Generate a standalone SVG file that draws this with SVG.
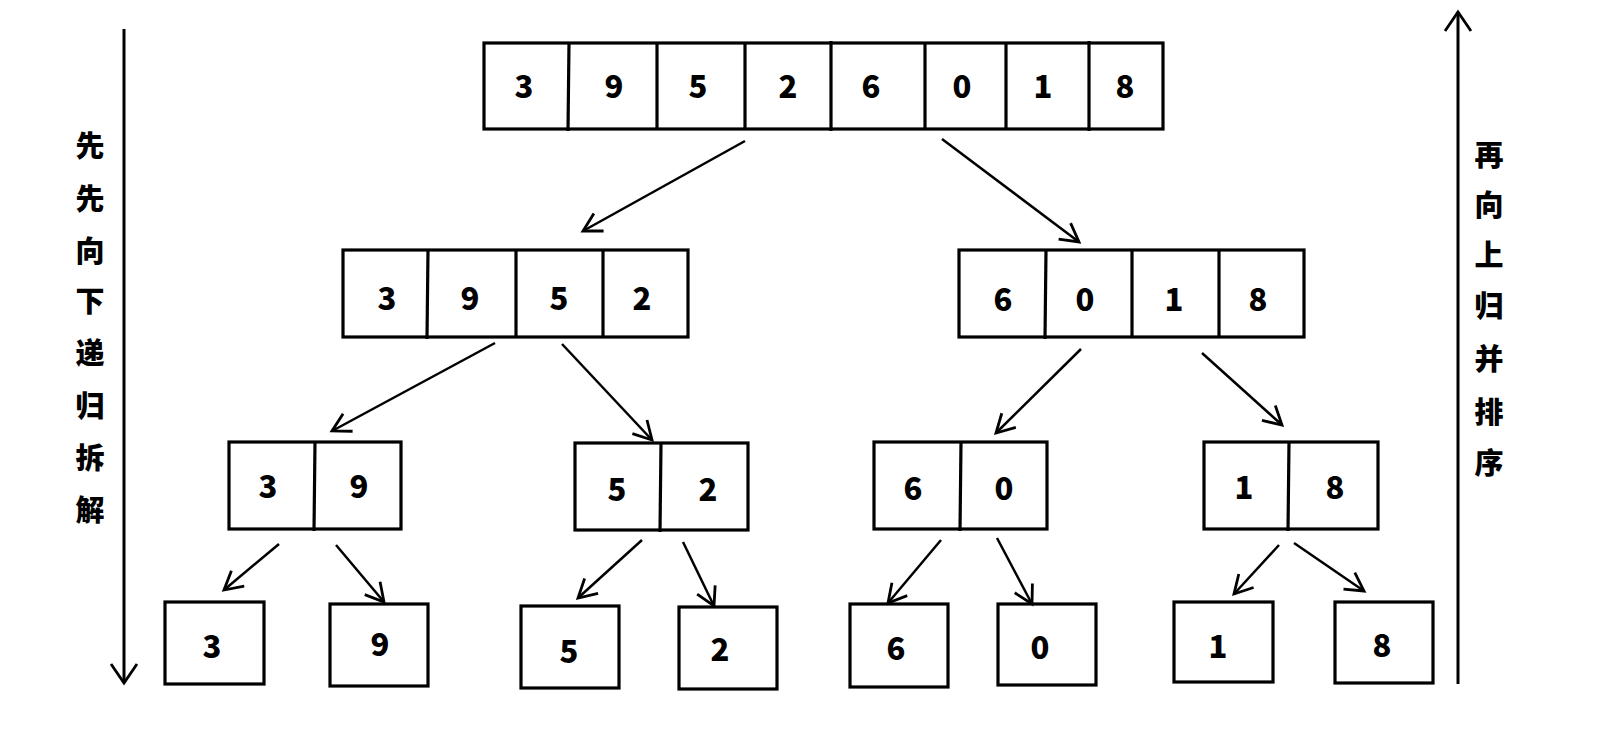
<svg xmlns="http://www.w3.org/2000/svg" width="1618" height="735" viewBox="0 0 1618 735">
<style>
.box{fill:none;stroke:#000;stroke-width:3.2}
.div{stroke:#000;stroke-width:3.2}
.num{font-family:"Noto Sans CJK SC","Liberation Sans",sans-serif;font-weight:900;font-size:31px;text-anchor:middle;dominant-baseline:central;fill:#000}
.cjk{font-family:"Noto Sans CJK SC",sans-serif;font-weight:900;font-size:29px;text-anchor:middle;dominant-baseline:central;fill:#000}
.arr{stroke:#000;stroke-width:2.5;fill:none;marker-end:url(#v)}
.big{stroke:#000;stroke-width:3;fill:none;marker-end:url(#vb)}
</style>
<defs>
<marker id="v" markerUnits="userSpaceOnUse" markerWidth="30" markerHeight="30" refX="21" refY="15" orient="auto" viewBox="0 0 30 30">
<polyline points="3,5 21,15 3,25" fill="none" stroke="#000" stroke-width="2.8"/>
</marker>
<marker id="vb" markerUnits="userSpaceOnUse" markerWidth="40" markerHeight="40" refX="24" refY="20" orient="auto" viewBox="0 0 40 40">
<polyline points="5,7 24,20 5,33" fill="none" stroke="#000" stroke-width="2.8"/>
</marker>
</defs>
<rect width="1618" height="735" fill="#fff"/>

<g id="connectors">
<line class="big" x1="124" y1="29" x2="124" y2="683"/>
<line class="big" x1="1458" y1="684" x2="1458" y2="12"/>
<line class="arr" x1="745" y1="141" x2="583" y2="231"/>
<line class="arr" x1="942" y1="139" x2="1079" y2="242"/>
<line class="arr" x1="495" y1="343" x2="332" y2="431"/>
<line class="arr" x1="562" y1="344" x2="652" y2="440"/>
<line class="arr" x1="1081" y1="349" x2="996" y2="433"/>
<line class="arr" x1="1202" y1="353" x2="1282" y2="425"/>
<line class="arr" x1="279" y1="544" x2="224" y2="590"/>
<line class="arr" x1="336" y1="545" x2="384" y2="602"/>
<line class="arr" x1="642" y1="540" x2="578" y2="598"/>
<line class="arr" x1="683" y1="542" x2="714" y2="606"/>
<line class="arr" x1="941" y1="540" x2="888" y2="603"/>
<line class="arr" x1="997" y1="538" x2="1032" y2="604"/>
<line class="arr" x1="1279" y1="545" x2="1234" y2="594"/>
<line class="arr" x1="1294" y1="543" x2="1364" y2="591"/>
</g>

<g id="label-left">
<text class="cjk" x="90" y="144">先</text>
<text class="cjk" x="90" y="197">先</text>
<text class="cjk" x="90" y="249">向</text>
<text class="cjk" x="90" y="299">下</text>
<text class="cjk" x="90" y="351">递</text>
<text class="cjk" x="90" y="404">归</text>
<text class="cjk" x="90" y="456">拆</text>
<text class="cjk" x="90" y="508">解</text>
</g>

<g id="label-right">
<text class="cjk" x="1489" y="153">再</text>
<text class="cjk" x="1489" y="203">向</text>
<text class="cjk" x="1489" y="253">上</text>
<text class="cjk" x="1489" y="304">归</text>
<text class="cjk" x="1489" y="357">并</text>
<text class="cjk" x="1489" y="410">排</text>
<text class="cjk" x="1489" y="461">序</text>
</g>

<g id="node-root">
<rect class="box" x="484" y="43" width="679" height="86"/>
<line class="div" x1="569" y1="43" x2="568" y2="131"/>
<line class="div" x1="657" y1="43" x2="657" y2="129"/>
<line class="div" x1="745" y1="43" x2="745" y2="129"/>
<line class="div" x1="831" y1="41" x2="831" y2="131"/>
<line class="div" x1="925" y1="43" x2="925" y2="129"/>
<line class="div" x1="1006" y1="43" x2="1006" y2="129"/>
<line class="div" x1="1089" y1="41" x2="1089" y2="131"/>
<text class="num" x="524" y="84">3</text>
<text class="num" x="614" y="84">9</text>
<text class="num" x="698" y="84">5</text>
<text class="num" x="788" y="84">2</text>
<text class="num" x="871" y="84">6</text>
<text class="num" x="962" y="84">0</text>
<text class="num" x="1043" y="84">1</text>
<text class="num" x="1125" y="84">8</text>
</g>

<g id="node-l">
<rect class="box" x="343" y="250" width="345" height="87"/>
<line class="div" x1="428" y1="250" x2="427" y2="339"/>
<line class="div" x1="516" y1="250" x2="516" y2="337"/>
<line class="div" x1="603" y1="250" x2="603" y2="337"/>
<text class="num" x="387" y="296">3</text>
<text class="num" x="470" y="296">9</text>
<text class="num" x="559" y="296">5</text>
<text class="num" x="642" y="296">2</text>
</g>

<g id="node-r">
<rect class="box" x="959" y="250" width="345" height="87"/>
<line class="div" x1="1046" y1="250" x2="1045" y2="339"/>
<line class="div" x1="1132" y1="250" x2="1132" y2="337"/>
<line class="div" x1="1219" y1="250" x2="1219" y2="337"/>
<text class="num" x="1003" y="297">6</text>
<text class="num" x="1085" y="297">0</text>
<text class="num" x="1174" y="297">1</text>
<text class="num" x="1258" y="297">8</text>
</g>

<g id="node-ll">
<rect class="box" x="229" y="442" width="172" height="87"/>
<line class="div" x1="315" y1="442" x2="314" y2="531"/>
<text class="num" x="268" y="484">3</text>
<text class="num" x="359" y="484">9</text>
</g>
<g id="node-lr">
<rect class="box" x="575" y="443" width="173" height="87"/>
<line class="div" x1="661" y1="443" x2="660" y2="532"/>
<text class="num" x="617" y="487">5</text>
<text class="num" x="708" y="487">2</text>
</g>
<g id="node-rl">
<rect class="box" x="874" y="442" width="173" height="87"/>
<line class="div" x1="961" y1="442" x2="960" y2="531"/>
<text class="num" x="913" y="486">6</text>
<text class="num" x="1004" y="486">0</text>
</g>
<g id="node-rr">
<rect class="box" x="1204" y="442" width="174" height="87"/>
<line class="div" x1="1289" y1="442" x2="1288" y2="531"/>
<text class="num" x="1244" y="485">1</text>
<text class="num" x="1335" y="485">8</text>
</g>

<g id="leaf-3"><rect class="box" x="165" y="602" width="99" height="82"/><text class="num" x="212" y="644">3</text></g>
<g id="leaf-9"><rect class="box" x="330" y="604" width="98" height="82"/><text class="num" x="380" y="642">9</text></g>
<g id="leaf-5"><rect class="box" x="521" y="606" width="98" height="82"/><text class="num" x="569" y="649">5</text></g>
<g id="leaf-2"><rect class="box" x="679" y="607" width="98" height="82"/><text class="num" x="720" y="647">2</text></g>
<g id="leaf-6"><rect class="box" x="850" y="604" width="98" height="83"/><text class="num" x="896" y="646">6</text></g>
<g id="leaf-0"><rect class="box" x="998" y="604" width="98" height="81"/><text class="num" x="1040" y="645">0</text></g>
<g id="leaf-1"><rect class="box" x="1174" y="602" width="99" height="80"/><text class="num" x="1218" y="644">1</text></g>
<g id="leaf-8"><rect class="box" x="1335" y="602" width="98" height="81"/><text class="num" x="1382" y="643">8</text></g>
</svg>
